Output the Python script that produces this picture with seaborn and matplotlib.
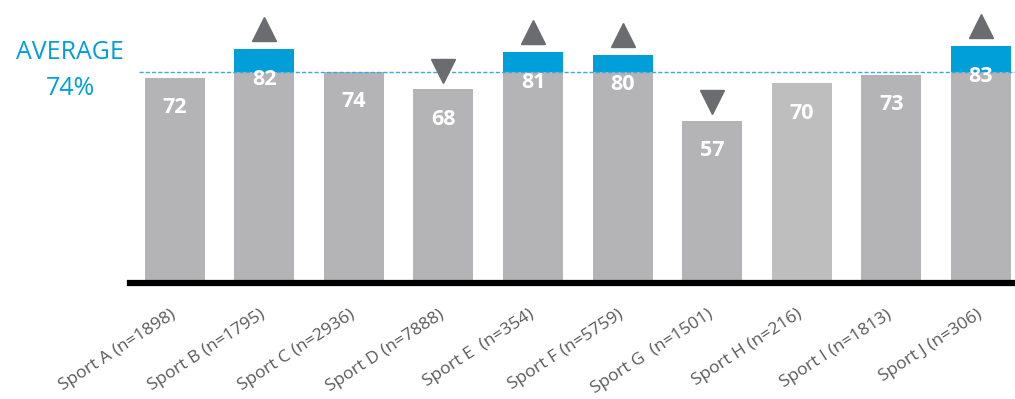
import numpy as np
import pandas as pd
import matplotlib
matplotlib.use("Agg")
import matplotlib.pyplot as plt
import matplotlib.transforms as mtransforms
import seaborn as sns

sports = ["Sport A (n=1898)", "Sport B (n=1795)", "Sport C (n=2936)", "Sport D (n=7888)",
          "Sport E  (n=354)", "Sport F (n=5759)", "Sport G  (n=1501)", "Sport H (n=216)",
          "Sport I (n=1813)", "Sport J (n=306)"]
scores = [72, 82, 74, 68, 81, 80, 57, 70, 73, 83]
average = 74
# +1 = notably above average, -1 = notably below, 0 = no marker
trend = [0, 1, 0, -1, 1, 1, -1, 0, 0, 1]

GRAY = "#B4B4B6"
LIGHT_GRAY = "#BEBEBF"
BLUE = "#009FDA"
MARKER = "#6B6C70"
TEXT = "#595959"

sns.set_theme(style="white")
plt.rcParams["font.family"] = ["Open Sans", "DejaVu Sans"]

fig = plt.figure(figsize=(10.15, 3.99), dpi=100)
ax = fig.add_axes([0.128, 0.291, 0.872, 0.709])

df = pd.DataFrame({"sport": sports, "score": scores})
bar_colors = [LIGHT_GRAY if s.startswith("Sport H") else GRAY for s in sports]
sns.barplot(data=df, x="sport", y="score", hue="sport", palette=bar_colors,
            legend=False, width=0.67, ax=ax, saturation=1, linewidth=0)

# Blue cap for the portion above the average
x = np.arange(len(scores))
vals = np.array(scores, dtype=float)
above = vals > average
ax.bar(x[above], vals[above] - average, bottom=average, width=0.67,
       color=BLUE, linewidth=0, zorder=3)

# Average reference line
ax.axhline(average, xmin=0.01, xmax=1, color="#3AA9DD", lw=1.0,
           ls=(0, (3, 1.5)), zorder=4)

# Value labels inside the bars
for xi, v in zip(x, scores):
    ax.text(xi, v - 10.5, f"{v}", ha="center", va="center", color="white",
            fontsize=15.5, fontweight="bold", zorder=5)

# Trend markers
for xi, v, t in zip(x, scores, trend):
    if t > 0:
        ax.plot(xi, v + 7.0, marker="^", color=MARKER, markersize=17, zorder=5)
    elif t < 0:
        ax.plot(xi, v + 6.5, marker="v", color=MARKER, markersize=17, zorder=5)

ax.set_xlim(-0.5, 9.38)
ax.set_ylim(0, 99.3)
ax.set_xlabel("")
ax.set_ylabel("")
ax.set_yticks([])
for side in ["top", "right", "left"]:
    ax.spines[side].set_visible(False)
ax.spines["bottom"].set_color("black")
ax.spines["bottom"].set_linewidth(4.5)
ax.tick_params(axis="x", length=0, pad=12)
ax.set_xticks(x)
ax.set_xticklabels(sports, rotation=33, ha="right", rotation_mode="anchor",
                   fontsize=12.6, color=TEXT)
shift = mtransforms.ScaledTranslation(-0.05, -0.07, fig.dpi_scale_trans)
for lbl in ax.get_xticklabels():
    lbl.set_transform(lbl.get_transform() + shift)

fig.text(0.069, 0.868, "AVERAGE", ha="center", va="center", color=BLUE, fontsize=18)
fig.text(0.069, 0.778, f"{average}%", ha="center", va="center", color=BLUE, fontsize=18)

fig.savefig("out.png", dpi=100, facecolor="white")
